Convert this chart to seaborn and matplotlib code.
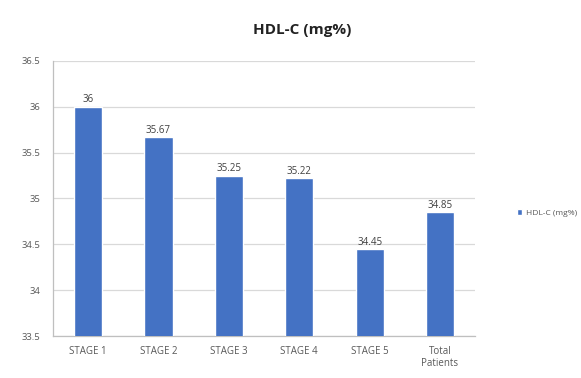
import matplotlib
matplotlib.use("Agg")
import matplotlib.pyplot as plt
import seaborn as sns
import pandas as pd

categories = ["STAGE 1", "STAGE 2", "STAGE 3", "STAGE 4", "STAGE 5", "Total\nPatients"]
hdl_values = [36.0, 35.67, 35.25, 35.22, 34.45, 34.85]
series_name = "HDL-C (mg%)"
y_ticks = [33.5, 34, 34.5, 35, 35.5, 36, 36.5]

sns.set_theme(style="white")
plt.rcParams["font.family"] = ["Open Sans", "DejaVu Sans"]

df = pd.DataFrame({"stage": categories, "value": hdl_values})

fig = plt.figure(figsize=(5.81, 3.78), dpi=100)
ax = fig.add_axes([0.091, 0.111, 0.727, 0.728])

sns.barplot(data=df, x="stage", y="value", color="#4472C4", saturation=1,
            width=0.4, label=series_name, ax=ax, zorder=3)

ax.set_ylim(33.5, 36.5)
ax.set_yticks(y_ticks)
ax.set_yticklabels([f"{t:g}" for t in y_ticks])
ax.yaxis.grid(True, color="#D9D9D9", linewidth=0.9, zorder=0)
ax.set_xlabel("")
ax.set_ylabel("")

for side in ["top", "right"]:
    ax.spines[side].set_visible(False)
for side in ["left", "bottom"]:
    ax.spines[side].set_color("#BFBFBF")
    ax.spines[side].set_linewidth(0.9)

ax.tick_params(axis="x", labelsize=7, colors="#595959", length=0, pad=7)
ax.tick_params(axis="y", labelsize=6.8, colors="#595959", length=0, pad=9)

ax.bar_label(ax.containers[0], labels=[f"{v:g}" for v in hdl_values],
             fontsize=7, color="#404040", padding=1)

fig.suptitle(series_name, x=0.52, y=0.94, fontsize=11, fontweight="bold", color="#222222")

ax.legend(loc="center left", bbox_to_anchor=(1.1, 0.447), frameon=False,
          fontsize=6, labelcolor="#595959", handlelength=0.6, handleheight=0.6,
          handletextpad=0.4, borderpad=0, borderaxespad=0)

fig.savefig("out.png", dpi=100)
